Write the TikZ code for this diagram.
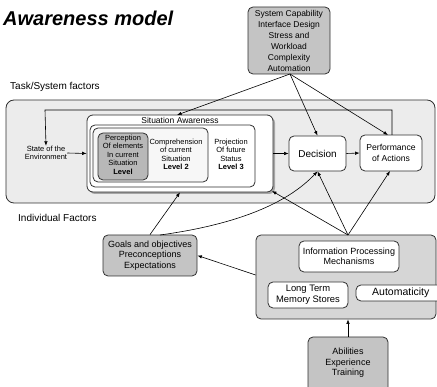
\documentclass[tikz,border=0pt]{standalone}
\usepackage{fontspec}
\setmainfont{Liberation Sans}
\usetikzlibrary{arrows.meta,calc}
\definecolor{taskbg}{HTML}{ECECEC}
\definecolor{indivbg}{HTML}{D6D6D6}
\definecolor{boxgray}{HTML}{C4C4C4}
\definecolor{percgray}{HTML}{B8B8B8}
\definecolor{edge}{HTML}{303030}
\tikzset{
  fbox/.style={draw=edge, line width=0.8pt, rounded corners=5pt, align=center,
    font=\fontsize{9}{10.5}\selectfont, inner sep=0pt},
  graybox/.style={fbox, fill=boxgray},
  whitebox/.style={fbox, fill=white},
  txt/.style={align=center, inner sep=0pt, font=\fontsize{9}{10.5}\selectfont},
  caption/.style={anchor=west, inner sep=0pt, font=\fontsize{10}{12}\selectfont},
  small/.style={align=center, inner sep=0pt, font=\fontsize{7.5}{8.5}\selectfont},
  conn/.style={line width=0.6pt, draw=black, -{Latex[length=4.5pt,width=3.5pt]}},
}
\begin{document}
\begin{tikzpicture}[x=1pt,y=-1pt]
\useasboundingbox (0,0) rectangle (437,387);
\clip (0,0) rectangle (437,387);

% title and group captions
\node[anchor=west, inner sep=0pt, font=\fontsize{20}{24}\selectfont\bfseries\itshape] (title) at (3,18) {Awareness model};
\node[caption] (tasklbl) at (10,87) {Task/System factors};
\node[caption] (indlbl) at (18,218) {Individual Factors};

% task / system factors panel
\node[fbox, fill=taskbg, minimum width=429pt, minimum height=103pt, rounded corners=8pt] (task) at (220.5,151.5) {};

% external task factors
\node[graybox, minimum width=82pt, minimum height=67pt, font=\fontsize{8.5}{11}\selectfont] (sys) at (289,40.5)
  {System Capability\\Interface Design\\Stress and\\Workload\\Complexity\\Automation};
\coordinate (sysfoot) at (290,74);

% situation awareness, nested levels
\fill[gray!70, rounded corners=6pt] (89,117) rectangle (275,194);
\node[fbox, fill=white, minimum width=186pt, minimum height=77pt, rounded corners=6pt] (sa) at (180,153.5) {};
\node[txt, font=\fontsize{8.5}{10}\selectfont] (salbl) at (180,120.5) {Situation Awareness};
\node[fbox, fill=white, minimum width=165pt, minimum height=62pt] (saproj) at (172.5,156) {};
\node[fbox, fill=black!3, minimum width=115pt, minimum height=54pt] (sacomp) at (150.5,155) {};
\node[fbox, fill=percgray, minimum width=50pt, minimum height=47pt] (perc) at (123,156.5) {};
\node[small] (perctxt) at (123,154.5) {Perception\\Of elements\\In current\\Situation\\\textbf{Level}};
\node[small] (comptxt) at (176,154.5) {Comprehension\\of current\\Situation\\\textbf{Level 2}};
\node[small] (projtxt) at (231,154.5) {Projection\\Of future\\Status\\\textbf{Level 3}};

% environment, decision, action
\node[small] (env) at (46,153) {State of the\\Environment};
\node[whitebox, minimum width=57pt, minimum height=35pt, font=\fontsize{10}{12}\selectfont] (dec) at (317.5,153.5) {Decision};
\node[whitebox, minimum width=62pt, minimum height=36pt, font=\fontsize{8.6}{11}\selectfont] (perf) at (391,153) {Performance\\of Actions};

% individual factors
\node[graybox, minimum width=94pt, minimum height=41pt] (goals) at (150,255.5)
  {Goals and objectives\\Preconceptions\\Expectations};
\node[fbox, fill=indivbg, minimum width=180pt, minimum height=84pt] (indiv) at (346,277) {};
\coordinate (indtop) at (348,235);
\node[whitebox, minimum width=100pt, minimum height=31pt] (ipm) at (349,256.5) {Information Processing\\Mechanisms};
\node[whitebox, minimum width=80pt, minimum height=26pt, font=\fontsize{9.4}{11}\selectfont] (ltm) at (308,295) {Long Term\\Memory Stores};
\node[whitebox, minimum width=100pt, minimum height=16pt] (auto) at (406,293) {};
\node[caption, font=\fontsize{10.5}{12}\selectfont] (autotxt) at (372,293) {Automaticity};
\node[fbox, fill=boxgray, minimum width=80pt, minimum height=63pt] (abil) at (348,368.5) {};
\node[txt] (abiltxt) at (348,363) {Abilities\\Experience\\Training};

% connectors
\draw[conn] (sysfoot) -- (177,115);
\draw[conn] (sysfoot) -- (dec.north);
\draw[conn] (sysfoot) -- (388,135);
\draw[conn] (392,135) -- (392,110) -- (45,110) -- (env.north);
\draw[conn] (env.east) -- (sa.west);
\draw[conn] (sa.east) -- (dec.west);
\draw[conn] (dec.east) -- (perf.west);
\draw[conn] (goals.north) -- (sa.south);
\draw[conn] (160,235) .. controls (255,222) and (295,195) .. (dec.south);
\draw[conn] (indtop) -- (dec.south);
\draw[conn] (indtop) -- (390,171);
\draw[conn] (indtop) -- (272,191);
\draw[conn] (indiv.west |- 0,275) -- (goals.east);
\draw[conn] (abil.north) -- (abil.north |- indiv.south);
\end{tikzpicture}
\end{document}
